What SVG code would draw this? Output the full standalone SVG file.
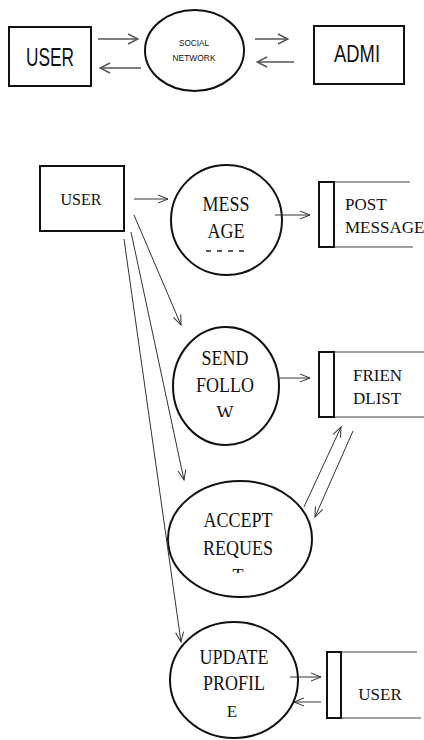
<svg xmlns="http://www.w3.org/2000/svg" width="424" height="740" viewBox="0 0 424 740">
  <style>
    .box { fill: #fff; stroke: #111; stroke-width: 2; }
    .proc { fill: #fff; stroke: #111; stroke-width: 2; }
    .bar { fill: #fff; stroke: #111; stroke-width: 2; }
    .rail { stroke: #444; stroke-width: 1.2; fill: none; }
    .flow { stroke: #333; stroke-width: 1; fill: none; }
    .flowTop { stroke: #555; stroke-width: 1.5; fill: none; }
    .sans { font-family: "Liberation Sans", Arial, sans-serif; fill: #111; }
    .serif { font-family: "Liberation Serif", "Times New Roman", serif; fill: #111; }
  </style>
  <defs>
    <marker id="arr" viewBox="0 0 12 10" refX="11" refY="5" markerWidth="12" markerHeight="10" markerUnits="userSpaceOnUse" orient="auto">
      <path d="M1,1 L11,5 L1,9" fill="none" stroke="#333" stroke-width="1"/>
    </marker>
    <marker id="arrTop" viewBox="0 0 12 12" refX="11" refY="6" markerWidth="12" markerHeight="12" markerUnits="userSpaceOnUse" orient="auto">
      <path d="M1,1 L11,6 L1,11" fill="none" stroke="#555" stroke-width="1.5"/>
    </marker>
    <clipPath id="clipW"><rect x="180" y="395" width="100" height="22"/></clipPath>
    <clipPath id="clipT"><rect x="180" y="560" width="120" height="13"/></clipPath>
  </defs>

  <!-- Context level -->
  <g id="ctx-user">
    <rect class="box" x="9" y="27" width="82" height="59"/>
    <text class="sans" x="50" y="66" font-size="26" text-anchor="middle" textLength="48" lengthAdjust="spacingAndGlyphs">USER</text>
  </g>
  <g id="ctx-social-network">
    <ellipse class="proc" cx="194.5" cy="50.5" rx="49.5" ry="40.5"/>
    <text class="sans" x="194" y="46" font-size="9.5" text-anchor="middle" textLength="30" lengthAdjust="spacingAndGlyphs" fill="#333">SOCIAL</text>
    <text class="sans" x="194" y="61" font-size="9.5" text-anchor="middle" textLength="43" lengthAdjust="spacingAndGlyphs" fill="#333">NETWORK</text>
  </g>
  <g id="ctx-admin">
    <rect class="box" x="314" y="26" width="90" height="58"/>
    <text class="sans" x="357" y="62" font-size="24" text-anchor="middle" textLength="46" lengthAdjust="spacingAndGlyphs">ADMI</text>
  </g>

  <!-- Level 1 -->
  <g id="user">
    <rect class="box" x="40" y="166" width="84" height="65"/>
    <text class="serif" x="81" y="205" font-size="16" text-anchor="middle">USER</text>
  </g>
  <g id="message">
    <ellipse class="proc" cx="226.5" cy="220" rx="55.5" ry="55"/>
    <text class="serif" x="226" y="211" font-size="18" text-anchor="middle" transform="translate(0,-42.2) scale(1,1.2)">MESS</text>
    <text class="serif" x="226" y="238" font-size="18" text-anchor="middle" transform="translate(0,-47.6) scale(1,1.2)">AGE</text>
    <line x1="206" y1="251" x2="248" y2="251" stroke="#222" stroke-width="1.5" stroke-dasharray="5,6"/>
  </g>
  <g id="post-message">
    <line class="rail" x1="334" y1="182" x2="410" y2="182"/>
    <line class="rail" x1="334" y1="247" x2="413" y2="247"/>
    <rect class="bar" x="319" y="182" width="15" height="65"/>
    <text class="serif" x="345" y="210" font-size="17">POST</text>
    <text class="serif" x="345" y="233" font-size="17">MESSAGE</text>
  </g>
  <g id="send-follow">
    <ellipse class="proc" cx="226" cy="386" rx="53" ry="59"/>
    <text class="serif" x="225" y="365" font-size="18" text-anchor="middle" transform="translate(0,-73) scale(1,1.2)">SEND</text>
    <text class="serif" x="225" y="392" font-size="18" text-anchor="middle" transform="translate(0,-78.4) scale(1,1.2)">FOLLO</text>
    <g clip-path="url(#clipW)">
      <text class="serif" x="225" y="419" font-size="18" text-anchor="middle">W</text>
    </g>
  </g>
  <g id="friendlist">
    <line class="rail" x1="334" y1="352" x2="424" y2="352"/>
    <line class="rail" x1="334" y1="417" x2="424" y2="417"/>
    <rect class="bar" x="319" y="352" width="15" height="65"/>
    <text class="serif" x="353" y="381" font-size="17">FRIEN</text>
    <text class="serif" x="353" y="404" font-size="17">DLIST</text>
  </g>
  <g id="accept-request">
    <ellipse class="proc" cx="240" cy="539" rx="72" ry="58"/>
    <text class="serif" x="238" y="527" font-size="18" text-anchor="middle" transform="translate(0,-105.4) scale(1,1.2)">ACCEPT</text>
    <text class="serif" x="238" y="555" font-size="18" text-anchor="middle" transform="translate(0,-111) scale(1,1.2)">REQUES</text>
    <g clip-path="url(#clipT)">
      <text class="serif" x="238" y="582" font-size="18" text-anchor="middle">T</text>
    </g>
  </g>
  <g id="update-profile">
    <ellipse class="proc" cx="234" cy="680" rx="64" ry="58"/>
    <text class="serif" x="234" y="664" font-size="18" text-anchor="middle" transform="translate(0,-132.8) scale(1,1.2)">UPDATE</text>
    <text class="serif" x="234" y="690" font-size="18" text-anchor="middle" transform="translate(0,-138) scale(1,1.2)">PROFIL</text>
    <text class="serif" x="232" y="717" font-size="17" text-anchor="middle">E</text>
  </g>
  <g id="user-store">
    <line class="rail" x1="341" y1="652" x2="417" y2="652"/>
    <line class="rail" x1="341" y1="718" x2="421" y2="718"/>
    <rect class="bar" x="327" y="652" width="14" height="66"/>
    <text class="serif" x="380" y="700" font-size="17" text-anchor="middle">USER</text>
  </g>

  <!-- Data flows -->
  <g id="connectors">
    <line class="flowTop" x1="98" y1="39" x2="138" y2="39" marker-end="url(#arrTop)"/>
    <line class="flowTop" x1="141" y1="68" x2="100" y2="68" marker-end="url(#arrTop)"/>
    <line class="flowTop" x1="255" y1="39" x2="288" y2="39" marker-end="url(#arrTop)"/>
    <line class="flowTop" x1="294" y1="62" x2="257" y2="62" marker-end="url(#arrTop)"/>

    <line class="flow" x1="134" y1="199" x2="168" y2="199" marker-end="url(#arr)"/>
    <line class="flow" x1="275" y1="215" x2="310" y2="215" marker-end="url(#arr)"/>
    <line class="flow" x1="134" y1="215" x2="181" y2="325" marker-end="url(#arr)"/>
    <line class="flow" x1="131" y1="232" x2="184" y2="480" marker-end="url(#arr)"/>
    <line class="flow" x1="124" y1="239" x2="181" y2="642" marker-end="url(#arr)"/>
    <line class="flow" x1="278" y1="378" x2="310" y2="378" marker-end="url(#arr)"/>
    <line class="flow" x1="304" y1="507" x2="341" y2="427" marker-end="url(#arr)"/>
    <line class="flow" x1="353" y1="431" x2="315" y2="517" marker-end="url(#arr)"/>
    <line class="flow" x1="290" y1="677" x2="321" y2="677" marker-end="url(#arr)"/>
    <line class="flow" x1="321" y1="702" x2="294" y2="702" marker-end="url(#arr)"/>
  </g>
</svg>
